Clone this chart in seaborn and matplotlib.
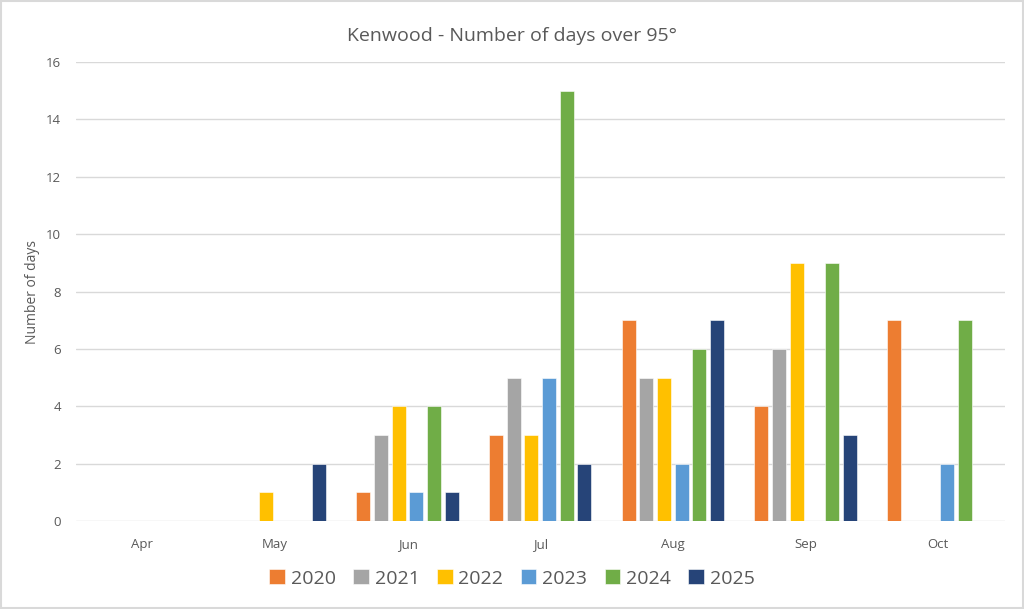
import pandas as pd
import matplotlib.pyplot as plt
import seaborn as sns
from matplotlib.patches import Rectangle

months = ['Apr', 'May', 'Jun', 'Jul', 'Aug', 'Sep', 'Oct']
years = ['2020', '2021', '2022', '2023', '2024', '2025']
days_2020 = [0, 0, 1, 3, 7, 4, 7]
days_2021 = [0, 0, 3, 5, 5, 6, 0]
days_2022 = [0, 1, 4, 3, 5, 9, 0]
days_2023 = [0, 0, 1, 5, 2, 0, 2]
days_2024 = [0, 0, 4, 15, 6, 9, 7]
days_2025 = [0, 2, 1, 2, 7, 3, 0]
colors = ['#ED7D31', '#A5A5A5', '#FFC000', '#5B9BD5', '#70AD47', '#264478']

series = [days_2020, days_2021, days_2022, days_2023, days_2024, days_2025]
df = pd.DataFrame({
    'Month': [m for s in series for m in months],
    'Year': [y for y, s in zip(years, series) for m in months],
    'Days': [v for s in series for v in s],
})

sns.set_theme(style='white')
plt.rcParams['font.family'] = ['Open Sans', 'DejaVu Sans']
txt = '#595959'

fig = plt.figure(figsize=(10.24, 6.09), dpi=100)
ax = fig.add_axes([0.0742, 0.1445, 0.9068, 0.7535])

sns.barplot(data=df, x='Month', y='Days', hue='Year', palette=colors,
            width=0.8, gap=0.21, ax=ax, edgecolor='white', linewidth=0.4,
            saturation=1, zorder=3)

ax.set_ylim(0, 16)
ax.set_yticks(range(0, 17, 2))
ax.yaxis.grid(True, color='#D9D9D9', linewidth=1, zorder=0)
ax.set_axisbelow(True)
for sp in ax.spines.values():
    sp.set_visible(False)
ax.tick_params(axis='both', length=0, colors=txt, labelsize=9.5)
ax.tick_params(axis='x', pad=12)
ax.tick_params(axis='y', pad=11)
ax.set_xlabel('')
ax.set_ylabel('Number of days', color=txt, fontsize=10, labelpad=2)
ax.yaxis.set_label_coords(-0.039, 0.5)

fig.suptitle('Kenwood - Number of days over 95°', y=0.955, fontsize=14, color=txt)

ax.legend(loc='center', bbox_to_anchor=(0.5, 0.05), bbox_transform=fig.transFigure,
          ncol=6, frameon=False, fontsize=14, labelcolor=txt,
          handlelength=0.8, handleheight=0.8, handletextpad=0.3, columnspacing=0.9)

fig.patches.append(Rectangle((0.001, 0.001), 0.998, 0.997, transform=fig.transFigure,
                             fill=False, edgecolor='#D9D9D9', linewidth=1.5))

fig.savefig('out.png', dpi=100, facecolor='white')
